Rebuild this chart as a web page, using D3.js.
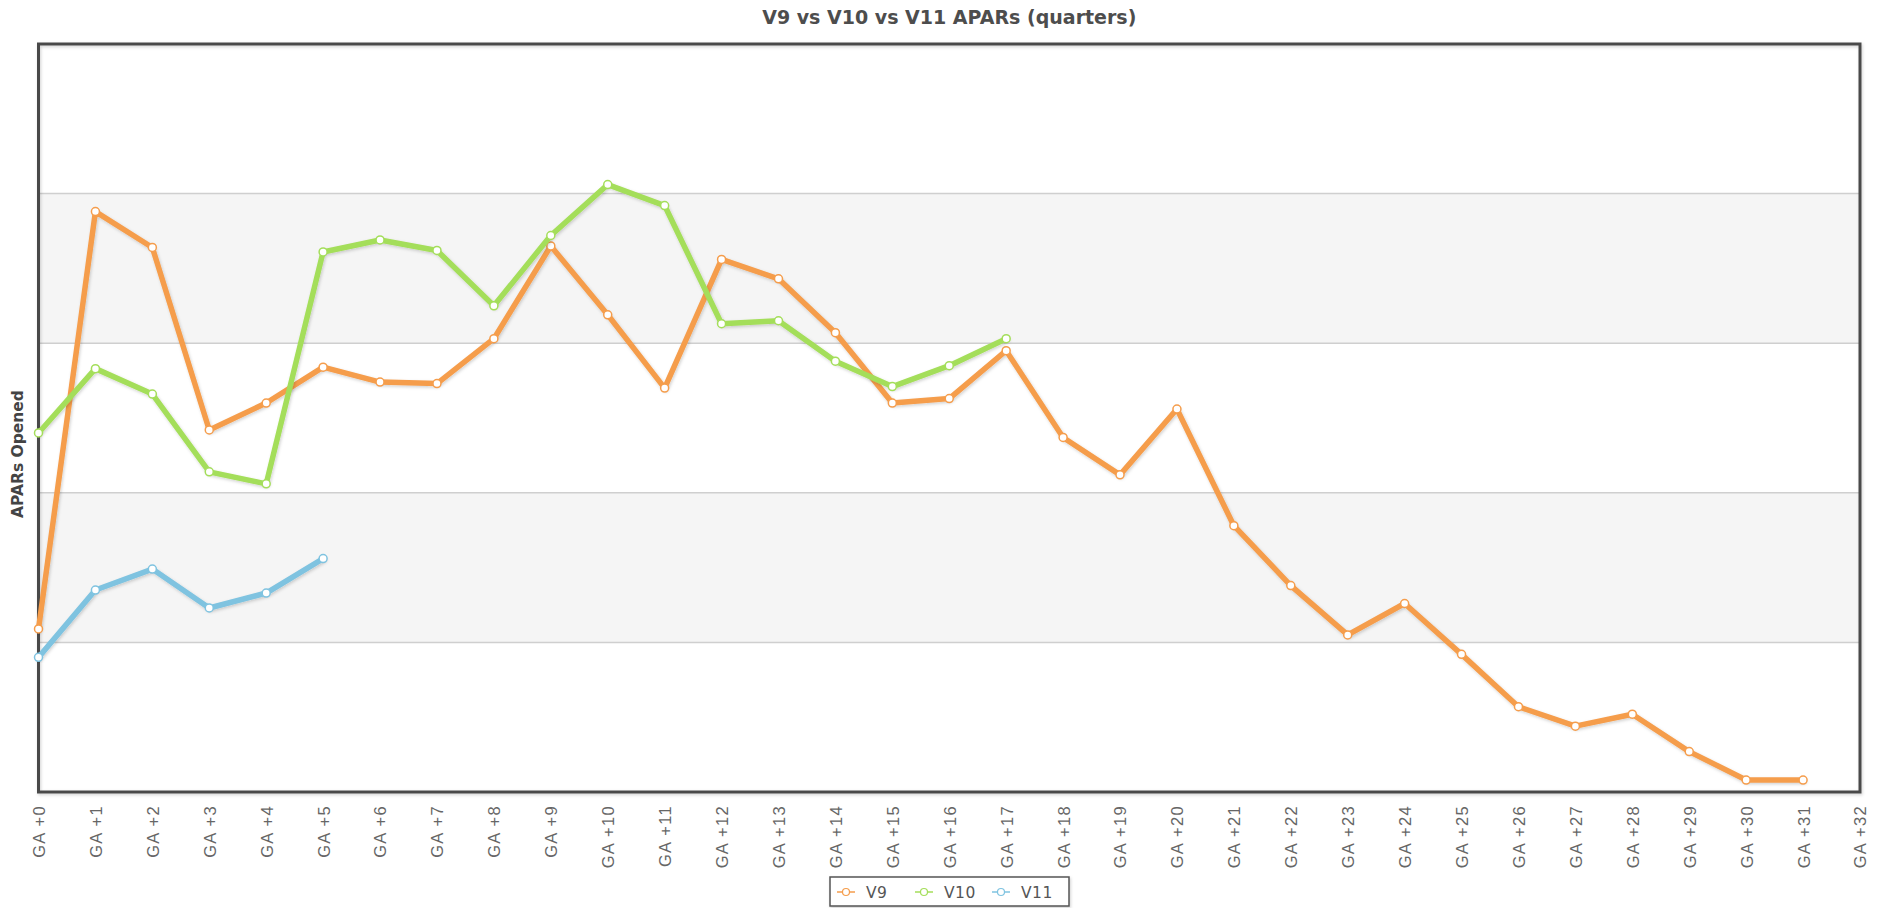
<!DOCTYPE html>
<html>
<head>
<meta charset="utf-8">
<script src="https://cdn.jsdelivr.net/npm/d3@7"></script>
<style>
  body { margin: 0; background: #fff; }
  svg { display: block; }
</style>
</head>
<body>
<div id="chart"></div>
<script>
// quarters after GA
let quarters = d3.range(0, 33).map(i => "GA +" + i)

// APARs opened per quarter (grid step = 10)
let v9 = [10.9, 38.8, 36.4, 24.2, 26.0, 28.4, 27.4, 27.3, 30.3, 36.5,
          31.9, 27.0, 35.6, 34.3, 30.7, 26.0, 26.3, 29.5, 23.7, 21.2,
          25.6, 17.8, 13.8, 10.5, 12.6, 9.2, 5.7, 4.4, 5.2, 2.7,
          0.8, 0.8]
let v10 = [24.0, 28.3, 26.6, 21.4, 20.6, 36.1, 36.9, 36.2, 32.5, 37.2,
           40.6, 39.2, 31.3, 31.5, 28.8, 27.1, 28.5, 30.3]
let v11 = [9.0, 13.5, 14.9, 12.3, 13.3, 15.6]

let seriesNames = ["V9", "V10", "V11"]
let seriesColors = ["#f59d4c", "#a4de5a", "#7fc3e0"]
let yTicks = [0, 10, 20, 30, 40, 50]

let width = 1887
let height = 909
let margin = {top: 44, right: 27, bottom: 117, left: 38.5}

let svg = d3.select("#chart")
  .append("svg")
  .attr("width", width)
  .attr("height", height)

let defs = svg.append("defs")
let shadow = defs.append("filter")
  .attr("id", "shadow")
  .attr("x", "-5%").attr("y", "-5%")
  .attr("width", "110%").attr("height", "110%")
shadow.append("feDropShadow")
  .attr("dx", 1).attr("dy", 1.5)
  .attr("stdDeviation", 1.5)
  .attr("flood-color", "#000")
  .attr("flood-opacity", 0.18)

let x = d3.scaleLinear()
  .domain([0, quarters.length - 1])
  .range([margin.left, width - margin.right])

let y = d3.scaleLinear()
  .domain([0, 50])
  .range([height - margin.bottom, margin.top])

// alternating bands
let bands = d3.pairs(yTicks)
svg.append("g")
  .selectAll("rect")
  .data(bands)
  .join("rect")
    .attr("x", margin.left)
    .attr("width", width - margin.right - margin.left)
    .attr("y", d => y(d[1]))
    .attr("height", d => y(d[0]) - y(d[1]))
    .attr("fill", (d, i) => i % 2 == 1 ? "#f5f5f5" : "#fff")

// grid lines
svg.append("g")
  .selectAll("line")
  .data(yTicks.slice(1, -1))
  .join("line")
    .attr("x1", margin.left)
    .attr("x2", width - margin.right)
    .attr("y1", d => y(d))
    .attr("y2", d => y(d))
    .attr("stroke", "#cfcfcf")
    .attr("stroke-width", 1.5)

// frame
svg.append("rect")
  .attr("x", margin.left)
  .attr("y", margin.top)
  .attr("width", width - margin.right - margin.left)
  .attr("height", height - margin.bottom - margin.top)
  .attr("fill", "none")
  .attr("stroke", "#4a4a4a")
  .attr("stroke-width", 3)
  .attr("filter", "url(#shadow)")

// x axis
let xAxis = svg.append("g")
  .attr("transform", `translate(0,${height - margin.bottom})`)
  .call(d3.axisBottom(x)
    .tickValues(d3.range(quarters.length))
    .tickFormat(i => quarters[i])
    .tickSize(0))
xAxis.select(".domain").remove()
xAxis.selectAll("text")
  .attr("transform", "rotate(-90)")
  .attr("text-anchor", "end")
  .attr("x", -13)
  .attr("y", 0)
  .attr("dy", "0.36em")
  .attr("fill", "#666")
  .attr("font-family", "'Liberation Sans', Arial, sans-serif")
  .attr("font-size", 16.5)
  .attr("letter-spacing", 1.3)

// title
svg.append("text")
  .attr("x", (margin.left + width - margin.right) / 2)
  .attr("y", 24)
  .attr("text-anchor", "middle")
  .attr("font-family", "'DejaVu Sans', Verdana, sans-serif")
  .attr("font-weight", "bold")
  .attr("font-size", 19)
  .attr("fill", "#4d4d4d")
  .text("V9 vs V10 vs V11 APARs (quarters)")

// y label
svg.append("text")
  .attr("transform", "translate(23,454) rotate(-90)")
  .attr("text-anchor", "middle")
  .attr("font-family", "'DejaVu Sans', Verdana, sans-serif")
  .attr("font-weight", "bold")
  .attr("font-size", 15.5)
  .attr("fill", "#444")
  .text("APARs Opened")

// lines
let allSeries = [v9, v10, v11]
let line = d3.line()
  .x((d, i) => x(i))
  .y(d => y(d))

let serie = svg.append("g")
  .selectAll("g")
  .data(allSeries)
  .join("g")

serie.append("path")
  .attr("d", d => line(d))
  .attr("fill", "none")
  .attr("stroke", (d, i) => seriesColors[i])
  .attr("stroke-width", 5.5)
  .attr("stroke-linejoin", "round")
  .attr("stroke-linecap", "round")
  .attr("filter", "url(#shadow)")

serie.each(function (s, k) {
  d3.select(this).selectAll("circle")
    .data(s)
    .join("circle")
      .attr("cx", (d, i) => x(i))
      .attr("cy", d => y(d))
      .attr("r", 4)
      .attr("fill", "#fff")
      .attr("stroke", seriesColors[k])
      .attr("stroke-width", 1.5)
})

// legend
let legend = svg.append("g")
  .attr("transform", "translate(830,877)")

legend.append("rect")
  .attr("width", 239)
  .attr("height", 29)
  .attr("fill", "#fff")
  .attr("stroke", "#555")
  .attr("stroke-width", 1.5)
  .attr("filter", "url(#shadow)")

let legendX = [16, 94, 171]
let item = legend.selectAll("g.item")
  .data(seriesNames)
  .join("g")
  .attr("class", "item")
  .attr("transform", (d, i) => `translate(${legendX[i]},15)`)

item.append("line")
  .attr("x1", -9).attr("x2", 9)
  .attr("stroke", (d, i) => seriesColors[i])
  .attr("stroke-width", 1.5)
item.append("circle")
  .attr("r", 3.5)
  .attr("fill", "#fff")
  .attr("stroke", (d, i) => seriesColors[i])
  .attr("stroke-width", 1.2)
item.append("text")
  .attr("x", 20)
  .attr("dy", "0.36em")
  .attr("font-family", "'DejaVu Sans', Verdana, sans-serif")
  .attr("font-size", 15.5)
  .attr("letter-spacing", 0.5)
  .attr("fill", "#555")
  .text(d => d)
</script>
</body>
</html>
